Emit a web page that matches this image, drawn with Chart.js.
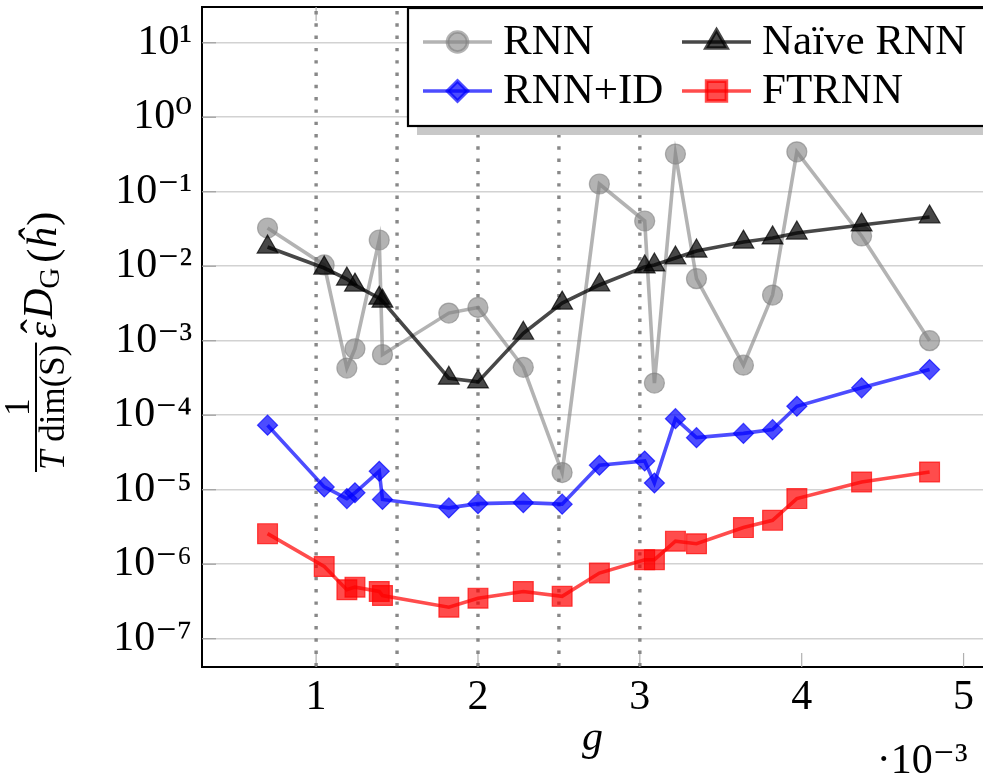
<!DOCTYPE html>
<html>
<head>
<meta charset="utf-8">
<script src="https://cdn.jsdelivr.net/npm/chart.js@4/dist/chart.umd.min.js"></script>
<style>
html,body{margin:0;padding:0;background:#fff;overflow:hidden;}
canvas{display:block;}
</style>
</head>
<body>
<canvas id="c" width="983" height="778"></canvas>
<script>
// ---- data (g in units of 10^-3) ----
const gValues = [0.70, 1.05, 1.19, 1.24, 1.39, 1.41, 1.82, 2.00, 2.28, 2.52, 2.75, 3.03, 3.09, 3.22, 3.35, 3.64, 3.82, 3.97, 4.37, 4.79];
const rnnValues   = [0.0326, 0.0104, 4.3e-4, 7.8e-4, 0.0225, 6.5e-4, 2.35e-3, 2.8e-3, 4.4e-4, 1.7e-5, 0.127, 0.0405, 2.7e-4, 0.32, 6.8e-3, 4.7e-4, 4.1e-3, 0.343, 0.0255, 1.0e-3];
const naiveValues = [0.0181, 0.00946, 0.00673, 0.00558, 0.00372, 0.0034, 3.14e-4, 2.8e-4, 1.26e-3, 3.2e-3, 5.6e-3, 9.8e-3, 0.0104, 0.0129, 0.016, 0.0211, 0.024, 0.0279, 0.0358, 0.0458];
const rnnIdValues = [7.35e-5, 1.09e-5, 7.6e-6, 9.1e-6, 1.77e-5, 7.4e-6, 5.7e-6, 6.5e-6, 6.7e-6, 6.4e-6, 2.13e-5, 2.43e-5, 1.23e-5, 9.0e-5, 5.0e-5, 5.7e-5, 6.4e-5, 1.32e-4, 2.33e-4, 4.1e-4];
const ftrnnValues = [2.57e-6, 9.3e-7, 4.54e-7, 4.92e-7, 4.31e-7, 3.8e-7, 2.65e-7, 3.5e-7, 4.3e-7, 3.7e-7, 7.6e-7, 1.15e-6, 1.15e-6, 2.04e-6, 1.88e-6, 3.1e-6, 3.88e-6, 7.6e-6, 1.27e-5, 1.73e-5];
const seriesNames = ['RNN', 'Naïve RNN', 'RNN+ID', 'FTRNN'];
const xTickValues = [1, 2, 3, 4, 5];
const yTickValues = [1e-7, 1e-6, 1e-5, 1e-4, 1e-3, 1e-2, 1e-1, 1e0, 1e1];
const markedG = [1, 1.5, 2, 2.5, 3];
const xExponentLabel = '·10⁻³';

// ---- styling ----
const SERIF = '"Liberation Serif", "DejaVu Serif", serif';
const FS = 42;
const LFS = 43;
const SUP = {'-':'⁻','0':'⁰','1':'¹','2':'²','3':'³','4':'⁴','5':'⁵','6':'⁶','7':'⁷','8':'⁸','9':'⁹'};
function sup(n){ return String(n).split('').map(c => SUP[c]).join(''); }
function pts(vals){ return gValues.map((g, i) => ({x: g, y: vals[i]})); }

const styles = [
  {color: 'rgba(128,128,128,0.6)', pointStyle: 'circle',   radius: 10, order: 4},
  {color: 'rgba(0,0,0,0.72)',      pointStyle: 'triangle', radius: 12, order: 3},
  {color: 'rgba(0,0,255,0.7)',     pointStyle: 'rectRot',  radius: 10, order: 2},
  {color: 'rgba(255,0,0,0.7)',     pointStyle: 'rect',     radius: 14, order: 1}
];
const allValues = [rnnValues, naiveValues, rnnIdValues, ftrnnValues];

const datasets = seriesNames.map((name, i) => ({
  label: name,
  data: pts(allValues[i]),
  borderColor: styles[i].color,
  backgroundColor: styles[i].color,
  borderWidth: 3.6,
  pointStyle: styles[i].pointStyle,
  pointRadius: styles[i].radius,
  pointBorderWidth: 1.2,
  pointBorderColor: styles[i].color,
  pointBackgroundColor: styles[i].color,
  tension: 0,
  order: styles[i].order,
  clip: false
}));

const framePlugin = {
  id: 'frame',
  beforeDatasetsDraw(chart) {
    const {ctx, chartArea: a, scales: {x, y}} = chart;
    ctx.save();
    // top frame
    ctx.strokeStyle = '#000'; ctx.lineWidth = 2;
    ctx.beginPath(); ctx.moveTo(a.left, a.top); ctx.lineTo(a.right, a.top); ctx.stroke();
    // inward tick marks
    ctx.strokeStyle = '#b0b0b0'; ctx.lineWidth = 1.2;
    xTickValues.forEach(v => {
      const px = x.getPixelForValue(v);
      ctx.beginPath();
      ctx.moveTo(px, a.bottom); ctx.lineTo(px, a.bottom - 14);
      ctx.moveTo(px, a.top); ctx.lineTo(px, a.top + 14);
      ctx.stroke();
    });
    ctx.strokeStyle = '#a0a0a0';
    yTickValues.forEach(v => {
      const py = y.getPixelForValue(v);
      ctx.beginPath(); ctx.moveTo(a.left, py); ctx.lineTo(a.left + 14, py); ctx.stroke();
    });
    // dotted vertical markers
    ctx.strokeStyle = '#888888'; ctx.lineWidth = 3.4;
    ctx.setLineDash([3.4, 8.9]);
    markedG.forEach(v => {
      const px = x.getPixelForValue(v);
      ctx.beginPath(); ctx.moveTo(px, a.top + 4); ctx.lineTo(px, a.bottom); ctx.stroke();
    });
    ctx.restore();
  },
  afterDraw(chart) {
    const {ctx, scales: {x}} = chart;
    ctx.save();
    // ---- legend ----
    const L = 408, T = 8, H = 118, W = 700;
    ctx.fillStyle = '#c8c8c8';
    ctx.fillRect(L + 9, T + 9, W, H);
    ctx.fillStyle = '#fff';
    ctx.fillRect(L, T, W, H);
    ctx.strokeStyle = '#000'; ctx.lineWidth = 2.2;
    ctx.strokeRect(L, T, W, H);
    const colX = [423, 682], rowY = [42, 91];
    chart.data.datasets.forEach((ds, i) => {
      const cx = colX[i % 2], cy = rowY[Math.floor(i / 2)];
      ctx.strokeStyle = ds.borderColor; ctx.lineWidth = 3.6; ctx.setLineDash([]);
      ctx.beginPath(); ctx.moveTo(cx, cy); ctx.lineTo(cx + 69, cy); ctx.stroke();
      ctx.fillStyle = ds.pointBackgroundColor; ctx.strokeStyle = ds.pointBorderColor;
      Chart.helpers.drawPoint(ctx, {pointStyle: ds.pointStyle, radius: ds.pointRadius, borderWidth: 1.2, rotation: 0}, cx + 34.5, cy);
      ctx.fillStyle = '#000';
      ctx.font = `${LFS}px ${SERIF}`;
      ctx.textBaseline = 'alphabetic'; ctx.textAlign = 'left';
      ctx.fillText(ds.label, cx + 80, cy + 12);
    });
    // ---- x exponent ----
    ctx.fillStyle = '#000';
    ctx.font = `${FS}px ${SERIF}`;
    ctx.textAlign = 'right'; ctx.textBaseline = 'alphabetic';
    ctx.fillText(xExponentLabel, x.getPixelForValue(5) + 4, 773);
    // ---- y label (rotated) ----
    ctx.rotate(-Math.PI / 2);
    ctx.textAlign = 'left';
    const fr = 35, mf = 42;
    const start = -470;
    ctx.font = `italic ${fr}px ${SERIF}`;
    const wT = ctx.measureText('T').width;
    ctx.font = `${fr}px ${SERIF}`;
    const wRest = ctx.measureText(' dim(S)').width;
    const denW = wT + wRest;
    ctx.font = `italic ${fr}px ${SERIF}`; ctx.fillText('T', start, 64);
    ctx.font = `${fr}px ${SERIF}`; ctx.fillText(' dim(S)', start + wT, 64);
    ctx.fillRect(start - 2, 35, denW + 4, 2);
    const w1 = ctx.measureText('1').width;
    ctx.fillText('1', start + denW / 2 - w1 / 2, 29);
    let p = start + denW + 6;
    const base = 56;
    ctx.font = `italic ${mf}px ${SERIF}`;
    const wE = ctx.measureText('ε').width;
    ctx.fillText('ε', p, base);
    ctx.font = `${mf}px ${SERIF}`;
    const wHat = ctx.measureText('ˆ').width;
    ctx.fillText('ˆ', p + wE / 2 - wHat / 2 + 4, base - 6);
    p += wE + 3;
    ctx.font = `italic ${mf}px ${SERIF}`;
    ctx.fillText('D', p, base - 4); p += ctx.measureText('D').width;
    ctx.font = `${Math.round(mf * 0.7)}px ${SERIF}`;
    ctx.fillText('G', p, base + 3); p += ctx.measureText('G').width + 5;
    ctx.font = `${mf}px ${SERIF}`;
    ctx.fillText('(', p, base); p += ctx.measureText('(').width;
    ctx.font = `italic ${mf}px ${SERIF}`;
    ctx.fillText('ĥ', p, base); p += ctx.measureText('ĥ').width + 2;
    ctx.font = `${mf}px ${SERIF}`;
    ctx.fillText(')', p, base);
    ctx.restore();
  }
};

new Chart(document.getElementById('c'), {
  type: 'line',
  data: {datasets},
  options: {
    responsive: false,
    animation: false,
    layout: {autoPadding: false, padding: {top: 7, right: 0, left: 0, bottom: 0}},
    plugins: {legend: {display: false}, tooltip: {enabled: false}},
    scales: {
      x: {
        type: 'linear',
        min: 0.295, max: 5.12,
        afterBuildTicks: s => { s.ticks = xTickValues.map(v => ({value: v})); },
        afterFit: s => { s.height = 111; s.paddingLeft = 0; s.paddingRight = 0; },
        ticks: {color: '#000', font: {family: SERIF, size: FS}, padding: 6, autoSkip: false, maxRotation: 0,
                callback: v => String(v)},
        grid: {display: true, drawOnChartArea: false, drawTicks: false},
        border: {display: true, color: '#000', width: 2},
        title: {display: true, text: 'g', color: '#000', font: {family: SERIF, size: FS, style: 'italic'}, padding: {top: 0, bottom: 14}}
      },
      y: {
        type: 'logarithmic',
        min: Math.pow(10, -7.38), max: Math.pow(10, 1.48),
        afterBuildTicks: s => { s.ticks = yTickValues.map(v => ({value: v, major: true})); },
        afterFit: s => { s.width = 202; s.paddingTop = 0; s.paddingBottom = 0; },
        ticks: {color: '#000', font: {family: SERIF, size: FS}, padding: 10, autoSkip: false,
                callback: v => '10' + sup(Math.round(Math.log10(v)))},
        grid: {color: '#d2d2d2', lineWidth: 1.5, drawTicks: false},
        border: {display: true, color: '#000', width: 2}
      }
    }
  },
  plugins: [framePlugin]
});
</script>
</body>
</html>
